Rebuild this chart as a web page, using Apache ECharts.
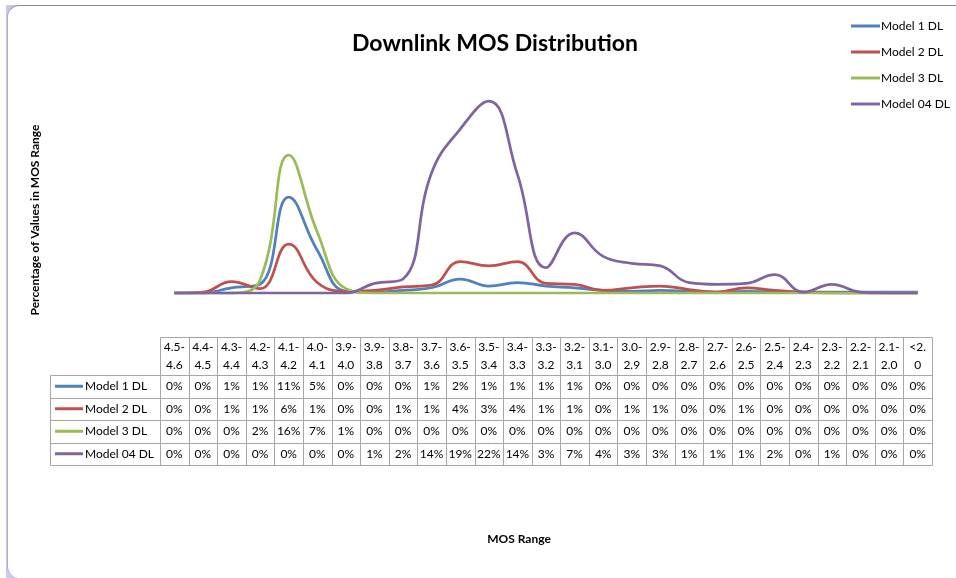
<!DOCTYPE html>
<html>
<head>
<meta charset="utf-8">
<title>Downlink MOS Distribution</title>
<script src="https://cdn.jsdelivr.net/npm/echarts@6/dist/echarts.min.js"></script>
<style>
  html, body { margin: 0; padding: 0; background: #fff; }
  #frame { position: absolute; left: 6px; top: 5px; width: 950px; height: 573px; background: #c9c9f2; }
  #inner { position: absolute; left: 1px; top: 0; right: 0; bottom: 0; background: #fff;
    border-top: 1px solid #8c8c8c; border-left: 1px solid #a8a8d8; border-radius: 12px 0 0 12px; }
  #box { position: absolute; left: 0; top: 0; width: 956px; height: 578px; }
</style>
</head>
<body>
<div id="frame"><div id="inner"></div></div>
<div id="box"></div>
<script>
//%% 1 类目（MOS 区间）
let categories = ['4.5-4.6', '4.4-4.5', '4.3-4.4', '4.2-4.3', '4.1-4.2', '4.0-4.1', '3.9-4.0',
  '3.9-3.8', '3.8-3.7', '3.7-3.6', '3.6-3.5', '3.5-3.4', '3.4-3.3', '3.3-3.2', '3.2-3.1',
  '3.1-3.0', '3.0-2.9', '2.9-2.8', '2.8-2.7', '2.7-2.6', '2.6-2.5', '2.5-2.4', '2.4-2.3',
  '2.3-2.2', '2.2-2.1', '2.1-2.0', '<2.0'];

//%% 2 各序列（百分比）
let seriesNames = ['Model 1 DL', 'Model 2 DL', 'Model 3 DL', 'Model 04 DL'];
let model1 = [0, 0, 0.6, 1.0, 11.0, 4.9, 0.2, 0.1, 0.3, 0.6, 1.6, 0.8, 1.2, 0.8, 0.6, 0.3, 0.2, 0.3, 0.2, 0.1, 0.2, 0.1, 0.1, 0.1, 0.1, 0.1, 0.1];
let model2 = [0, 0.1, 1.3, 0.5, 5.6, 1.2, 0.2, 0.3, 0.7, 0.9, 3.6, 3.1, 3.6, 1.1, 1.0, 0.3, 0.6, 0.8, 0.4, 0.1, 0.6, 0.3, 0.1, 0, 0, 0, 0];
let model3 = [0, 0, 0, 1.5, 15.8, 7.0, 0.5, 0, 0, 0, 0, 0, 0, 0, 0, 0, 0, 0, 0, 0, 0, 0, 0, 0, 0, 0, 0];
let model04 = [0, 0, 0, 0, 0, 0, 0, 1.1, 1.6, 13.8, 18.8, 22.0, 13.6, 2.9, 6.9, 4.2, 3.4, 3.1, 1.2, 1.0, 1.1, 2.1, 0.1, 1.0, 0.1, 0, 0];
let colors = ['#4f81bd', '#c0504d', '#9bbb59', '#8064a2'];

let font = 'Lato, "Open Sans", sans-serif';

let chart = echarts.init(document.getElementById('box'), null, { renderer: 'canvas' });

//%% 3 组合基本序列
let series = [model1, model2, model3, model04].map((values, i) => ({
  type: 'line',
  name: seriesNames[i],
  data: values,
  smooth: 0.45,
  symbol: 'none',
  color: colors[i],
  lineStyle: { width: 2.75, color: colors[i] }
}));

let option = {
  animation: false,
  backgroundColor: 'transparent',
  title: {
    text: 'Downlink MOS Distribution',
    left: 490,
    top: 27,
    textAlign: 'center',
    textStyle: { fontFamily: font, fontSize: 23, fontWeight: 'bold', color: '#000' }
  },
  legend: {
    data: seriesNames,
    orient: 'vertical',
    left: 846,
    top: 15,
    itemGap: 14,
    itemWidth: 29,
    itemHeight: 3,
    icon: 'rect',
    textStyle: { fontFamily: font, fontSize: 12, color: '#000', padding: [0, 0, 0, -4] }
  },
  grid: { left: 160, right: 24, top: 75, bottom: 285 },
  xAxis: {
    type: 'category',
    data: categories,
    boundaryGap: true,
    axisLine: { show: false },
    axisTick: { show: false },
    axisLabel: { show: false }
  },
  yAxis: {
    type: 'value',
    min: 0,
    max: 25,
    show: false
  },
  series: series
};
chart.setOption(option);

//%% 4 数据表（位置取自类目轴）
function drawTable() {
  let g = [];
  let border = '#a6a6a6';
  let xs = categories.map(c => chart.convertToPixel({ xAxisIndex: 0 }, c));
  let w = xs[1] - xs[0];
  let left = xs[0] - w / 2;
  let right = left + w * categories.length;
  let labelLeft = 50;
  let headTop = 337, headBottom = 375, rowH = 22.5;
  let rows = [model1, model2, model3, model04];
  let bottom = headBottom + rowH * rows.length;
  let px = v => Math.round(v) + 0.5;
  let hline = (x1, x2, y) => g.push({ type: 'line', silent: true, shape: { x1: px(x1), y1: px(y), x2: px(x2), y2: px(y) }, style: { stroke: border, lineWidth: 1 } });
  let vline = (x, y1, y2) => g.push({ type: 'line', silent: true, shape: { x1: px(x), y1: px(y1), x2: px(x), y2: px(y2) }, style: { stroke: border, lineWidth: 1 } });
  let text = (t, x, y, align) => g.push({ type: 'text', silent: true, x: x, y: y, style: { text: t, fill: '#000', font: '12px ' + font, align: align || 'center', verticalAlign: 'middle' } });

  hline(left, right, headTop);
  for (let r = 0; r <= rows.length; r++) {
    hline(labelLeft, right, headBottom + r * rowH);
  }
  vline(labelLeft, headBottom, bottom);
  for (let k = 0; k <= categories.length; k++) {
    vline(left + k * w, headTop, bottom);
  }
  // 表头两行
  categories.forEach((c, i) => {
    let cut = c.indexOf('-') >= 0 ? c.indexOf('-') + 1 : 3;
    text(c.slice(0, cut), xs[i], 347);
    text(c.slice(cut), xs[i], 365);
  });
  // 各行
  rows.forEach((values, r) => {
    let cy = headBottom + r * rowH + rowH / 2;
    g.push({ type: 'line', silent: true, shape: { x1: 55, y1: cy, x2: 83, y2: cy }, style: { stroke: colors[r], lineWidth: 3 } });
    text(seriesNames[r], 85, cy, 'left');
    values.forEach((v, i) => text(Math.round(v) + '%', xs[i], cy));
  });

  // 轴标题
  g.push({ type: 'text', silent: true, x: 35, y: 220, rotation: Math.PI / 2,
    style: { text: 'Percentage of Values in MOS Range', fill: '#000', font: 'bold 12px ' + font, align: 'center', verticalAlign: 'middle' } });
  g.push({ type: 'text', silent: true, x: 519, y: 539,
    style: { text: 'MOS Range', fill: '#000', font: 'bold 12px ' + font, align: 'center', verticalAlign: 'middle' } });

  chart.setOption({ graphic: g });
}
drawTable();
</script>
</body>
</html>
